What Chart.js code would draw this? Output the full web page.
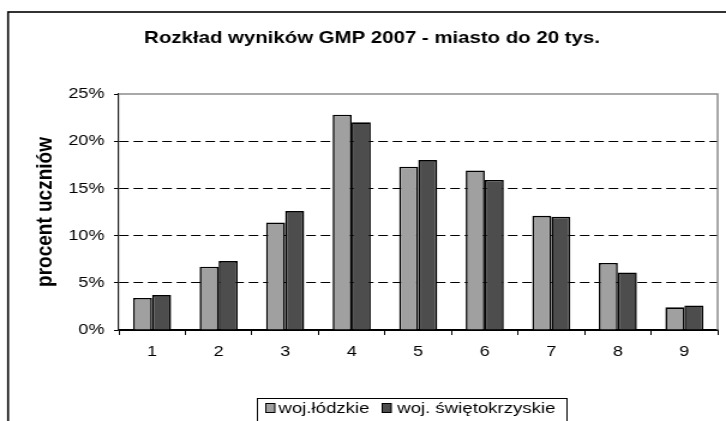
<!DOCTYPE html>
<html>
<head>
<meta charset="utf-8">
<script src="https://cdn.jsdelivr.net/npm/chart.js@4/dist/chart.umd.min.js"></script>
<style>
  html, body { margin: 0; padding: 0; background: #fff; overflow: hidden; }
  #wrap { position: absolute; left: 0; top: 0; width: 605px; height: 421px;
          transform: scaleX(1.2); transform-origin: 0 0; }
</style>
</head>
<body>
<div id="wrap"><canvas id="c"></canvas></div>
<script>
const chartTitle = 'Rozkład wyników GMP 2007 - miasto do 20 tys.';
const yAxisTitle = 'procent uczniów';
const categories = ['1', '2', '3', '4', '5', '6', '7', '8', '9'];
const seriesNames = ['woj.łódzkie', 'woj. świętokrzyskie'];
const lodzkie = [3.4, 6.7, 11.4, 22.8, 17.3, 16.9, 12.1, 7.1, 2.4];
const swietokrzyskie = [3.7, 7.3, 12.6, 22.0, 18.0, 15.9, 12.0, 6.1, 2.6];
const yTicks = [0, 5, 10, 15, 20, 25];

const FONT = '"Liberation Sans", Arial, sans-serif';

const decor = {
  id: 'decor',
  beforeDatasetsDraw(chart) {
    const {ctx, chartArea: a} = chart;
    ctx.save();
    ctx.strokeStyle = '#8c8c8c';
    ctx.lineWidth = 1.5;
    ctx.beginPath();
    ctx.moveTo(a.left, a.top);
    ctx.lineTo(a.right, a.top);
    ctx.lineTo(a.right, a.bottom);
    ctx.stroke();
    ctx.restore();
  },
  afterDraw(chart) {
    const {ctx} = chart;
    ctx.save();
    // outer frame
    ctx.strokeStyle = '#000';
    ctx.lineWidth = 1.6;
    ctx.strokeRect(6.7, 12, 700, 500);
    // title
    ctx.fillStyle = '#000';
    ctx.font = 'bold 17px ' + FONT;
    ctx.textAlign = 'center';
    ctx.textBaseline = 'alphabetic';
    ctx.fillText(chartTitle, 310, 43);
    // legend
    const ds = chart.data.datasets;
    ctx.lineWidth = 1;
    ctx.strokeStyle = '#000';
    ctx.strokeRect(214.5, 398.5, 258, 40);
    const items = [{mx: 221, tx: 232}, {mx: 318, tx: 331}];
    ctx.font = '15.5px ' + FONT;
    ctx.textAlign = 'left';
    ctx.textBaseline = 'middle';
    items.forEach((it, i) => {
      ctx.fillStyle = ds[i].backgroundColor;
      ctx.fillRect(it.mx, 403.5, 8, 9);
      ctx.strokeStyle = '#000';
      ctx.strokeRect(it.mx + 0.5, 403.5, 7.5, 9);
      ctx.fillStyle = '#000';
      ctx.fillText(ds[i].label, it.tx, 408.5);
    });
    ctx.restore();
  }
};

new Chart(document.getElementById('c'), {
  type: 'bar',
  data: {
    labels: categories,
    datasets: [
      { label: seriesNames[0], data: lodzkie, backgroundColor: '#a0a0a0',
        borderColor: '#000', borderWidth: 1.6, borderSkipped: 'bottom' },
      { label: seriesNames[1], data: swietokrzyskie, backgroundColor: '#4d4d4d',
        borderColor: '#000', borderWidth: 1.6, borderSkipped: 'bottom' }
    ]
  },
  options: {
    responsive: true,
    maintainAspectRatio: false,
    animation: false,
    layout: { padding: { top: 94, right: 7, left: 0, bottom: 0 } },
    datasets: { bar: { barPercentage: 1.0, categoryPercentage: 0.572 } },
    plugins: {
      legend: { display: false },
      title: { display: false },
      tooltip: { enabled: false }
    },
    scales: {
      x: {
        offset: true,
        grid: { offset: true, drawOnChartArea: false, tickLength: 5, tickColor: '#000', color: '#000' },
        border: { color: '#000', width: 1.2 },
        ticks: { color: '#000', font: { family: FONT, size: 15 }, padding: 8 },
        afterFit(s) { s.height = 91; }
      },
      y: {
        min: 0, max: 25,
        afterBuildTicks(s) { s.ticks = yTicks.map(v => ({value: v})); },
        ticks: { color: '#000', font: { family: FONT, size: 15 }, padding: 8,
                 callback: v => v + '%' },
        grid: {
          tickLength: 4, tickColor: '#000',
          color: c => (c.tick && (c.tick.value === 25)) ? 'rgba(0,0,0,0)' : '#000',
          lineWidth: 1
        },
        border: { color: '#222', width: 1.2,
                  dash: c => (c.tick && (c.tick.value === 0 || c.tick.value === 25)) ? [] : [8, 4] },
        title: { display: true, text: yAxisTitle, color: '#000',
                 font: { family: FONT, size: 19, weight: 'bold' },
                 padding: { top: 26, bottom: 0 } },
        afterFit(s) { s.width = 99; }
      }
    }
  },
  plugins: [decor]
});
</script>
</body>
</html>
